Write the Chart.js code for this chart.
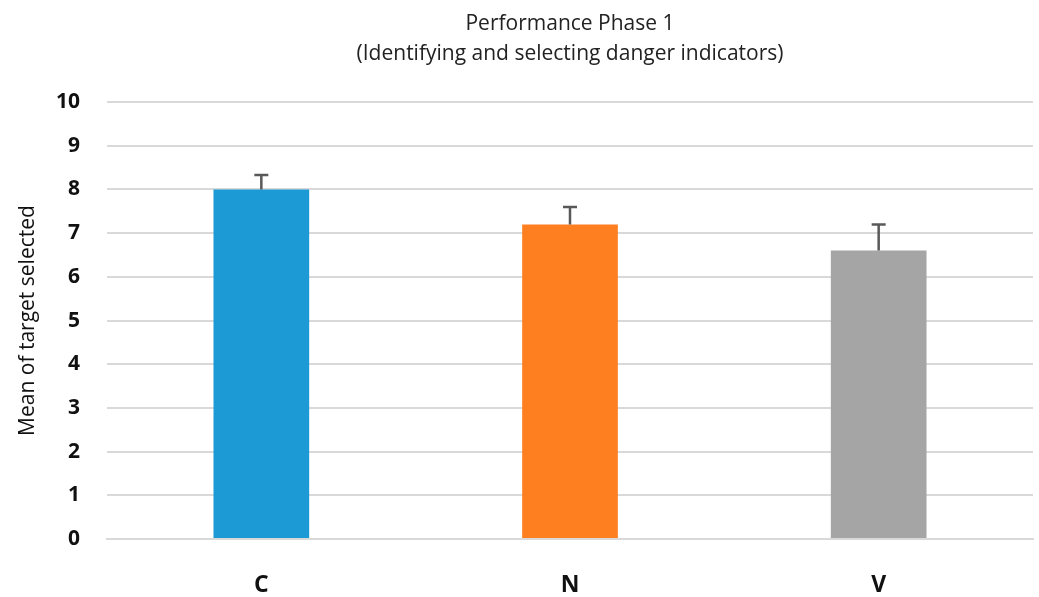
<!DOCTYPE html>
<html lang="en">
<head>
    <meta charset="UTF-8">
    <title>Performance Phase 1</title>
    <style>
        html, body { margin: 0; padding: 0; background: #fff; }
        #wrap { width: 1039px; height: 597px; }
    </style>
</head>
<body>
    <div id="wrap"><canvas id="myChart"></canvas></div>
    <script src="https://cdn.jsdelivr.net/npm/chart.js"></script>
    <script>
    const groups = ['C', 'N', 'V'];
    const means = [8.0, 7.2, 6.6];
    const errUp = [0.33, 0.4, 0.6];
    const barColors = ['#1b9ad6', '#fd7f20', '#a5a5a5'];
    const yTicks = [0, 1, 2, 3, 4, 5, 6, 7, 8, 9, 10];

    // upper error bars only, drawn through the scales
    const errorBars = {
        id: 'errorBars',
        afterDatasetsDraw(chart) {
            const ctx = chart.ctx;
            const xs = chart.scales.x, ys = chart.scales.y;
            ctx.save();
            ctx.strokeStyle = '#595959';
            ctx.lineWidth = 2.5;
            means.forEach((m, i) => {
                const x = xs.getPixelForValue(i);
                const y0 = ys.getPixelForValue(m);
                const y1 = ys.getPixelForValue(m + errUp[i]);
                ctx.beginPath();
                ctx.moveTo(x, y0);
                ctx.lineTo(x, y1);
                ctx.moveTo(x - 7, y1);
                ctx.lineTo(x + 7, y1);
                ctx.stroke();
            });
            ctx.restore();
        }
    };

    const ctx = document.getElementById('myChart');
    new Chart(ctx, {
        type: 'bar',
        data: {
            labels: groups,
            datasets: [{
                data: means,
                backgroundColor: barColors,
                barPercentage: 0.31,
                categoryPercentage: 1
            }]
        },
        options: {
            responsive: true,
            maintainAspectRatio: false,
            animation: false,
            layout: { padding: { top: 9, right: 6, bottom: 0, left: 15 } },
            plugins: {
                legend: { display: false },
                tooltip: { enabled: false },
                title: {
                    display: true,
                    fullSize: false,
                    text: ['Performance Phase 1', '(Identifying and selecting danger indicators)'],
                    color: '#222',
                    font: { family: 'Open Sans', size: 21, weight: 'normal', lineHeight: 1.43 },
                    padding: { top: 0, bottom: 33 }
                }
            },
            scales: {
                x: {
                    afterFit(axis) { axis.height = 58; },
                    grid: { display: false, drawTicks: false },
                    border: { display: true, color: '#d9d9d9', width: 2 },
                    ticks: {
                        color: '#111',
                        padding: 33,
                        font: { family: 'Open Sans', size: 23, weight: 'bold' }
                    }
                },
                y: {
                    min: 0,
                    max: 10,
                    afterFit(axis) { axis.width = 92; },
                    afterBuildTicks(axis) { axis.ticks = yTicks.map(v => ({ value: v })); },
                    grid: { color: '#d9d9d9', lineWidth: 2, drawTicks: false },
                    border: { display: false },
                    ticks: {
                        color: '#111',
                        padding: 27,
                        font: { family: 'Open Sans', size: 21, weight: 'bold' }
                    },
                    title: {
                        display: true,
                        text: 'Mean of target selected',
                        color: '#111',
                        padding: { top: 0, bottom: 17 },
                        font: { family: 'Open Sans', size: 21, weight: 'normal' }
                    }
                }
            }
        },
        plugins: [errorBars]
    });
    </script>
</body>
</html>
